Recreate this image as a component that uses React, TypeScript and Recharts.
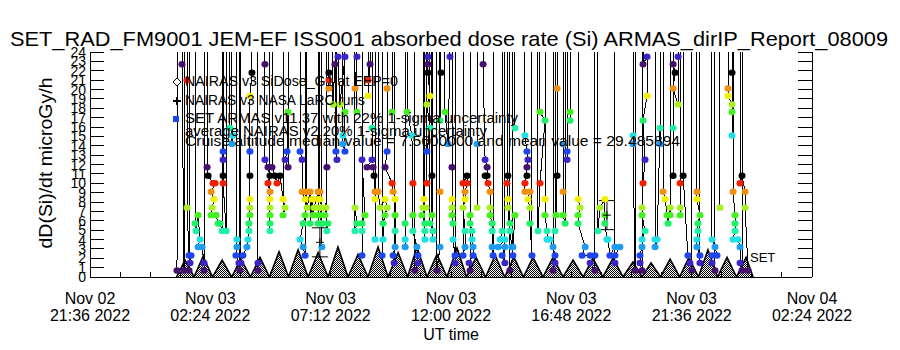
import React from "react";
import { ComposedChart, XAxis, YAxis, Line, Area, Scatter, ErrorBar } from "recharts";

const FONT = "'Liberation Sans', Arial, sans-serif";

// x is hours after Nov 02 21:36 UT
const xTickHours = [0, 1.2, 2.4, 3.6, 4.8, 6, 7.2, 8.4, 9.6, 10.8, 12, 13.2, 14.4, 15.6, 16.8, 18, 19.2, 20.4, 21.6, 22.8, 24, 25.2, 26.4, 27.6, 28.8];
const xLabelDates = ["Nov 02", "Nov 03", "Nov 03", "Nov 03", "Nov 03", "Nov 03", "Nov 04"];
const xLabelTimes = ["21:36 2022", "02:24 2022", "07:12 2022", "12:00 2022", "16:48 2022", "21:36 2022", "02:24 2022"];
const yTicks = [0, 1, 2, 3, 4, 5, 6, 7, 8, 9, 10, 11, 12, 13, 14, 15, 16, 17, 18, 19, 20, 21, 22, 23, 24];

// SET ARMAS dose rate, 40 = off scale
const armasHours = [
  3.47, 3.51,
  3.67, 3.67, 3.75, 3.75,
  3.87, 3.87, 3.87, 3.95, 4.03, 3.99, 3.95, 3.95,
  4.19, 4.19, 4.23, 4.31, 4.39, 4.31, 4.47, 4.55, 4.55, 4.55,
  4.67, 4.67, 4.71, 4.91, 4.99, 4.83, 4.95, 4.87, 4.83, 5.03, 5.11, 5.19, 5.27, 5.27,
  5.31, 5.31, 5.31, 5.31, 5.31, 5.43, 5.43,
  5.58, 5.58, 5.70, 5.66, 5.66,
  5.86, 5.86, 5.86, 5.82, 5.94, 5.98, 5.98,
  6.46, 6.46, 6.38, 6.38, 6.38, 6.38, 6.38, 6.38, 6.34, 6.34, 6.30, 6.26, 6.10, 6.02, 6.02,
  6.70, 6.70, 6.70, 6.70,
  6.98, 6.98, 6.98, 7.10, 7.18, 7.10, 7.18, 7.18, 7.18, 7.18, 7.18, 7.18, 7.18,
  7.26, 7.26, 7.38, 7.46, 7.58, 7.70, 7.78, 7.70, 7.70,
  7.90, 7.90, 7.86, 7.78, 7.90, 7.90,
  8.38, 8.38, 8.46, 8.46, 8.58, 8.58, 8.50, 8.38, 8.50, 8.58, 8.58,
  8.62, 8.62, 8.66, 8.78, 8.78, 8.86, 8.90, 8.94, 9.10, 9.10, 9.10, 9.10, 9.10, 9.10,
  9.17, 9.17, 9.17, 9.25, 9.17, 9.25, 9.25, 9.25,
  9.41, 9.45, 9.41, 9.37, 9.49, 9.45, 9.45,
  9.53, 9.53, 9.53, 9.53, 9.53,
  9.69, 9.69, 9.77, 9.89, 9.97, 10.17, 10.17,
  9.81, 9.81, 9.85, 9.85,
  10.09, 10.09, 10.09, 10.17, 10.17, 10.17,
  10.57, 10.57, 10.65, 10.65, 10.65,
  10.57, 10.57, 10.65, 10.57, 10.57,
  10.85, 10.85, 10.97, 10.85, 10.85, 10.85, 10.85,
  11.09, 11.09, 11.09, 11.17, 11.17,
  11.25, 11.25, 11.25, 11.05, 11.29, 11.33, 11.37, 11.37, 11.37, 11.37,
  11.49, 11.49, 11.57, 11.77, 11.85, 11.77, 11.69, 11.69, 11.65, 11.65,
  11.85, 11.85, 11.85, 11.77, 12.05, 12.09, 12.17, 12.17, 12.17, 12.17, 12.09, 12.13, 12.13,
  12.05, 12.05, 12.05,
  12.57, 12.57, 12.57, 12.57, 12.57,
  12.65, 12.65, 12.84, 12.88, 12.88, 12.88, 13.04, 13.08, 13.08, 12.96, 12.96,
  13.48, 13.48, 13.48, 13.48, 13.56, 13.44, 13.56, 13.44, 13.44, 13.44,
  13.32, 13.32, 13.28, 13.40, 13.24, 13.36, 13.36, 13.36, 13.36,
  13.56, 13.56, 13.68, 13.68, 13.68,
  13.64, 13.64, 13.64, 13.64,
  13.96, 13.96, 14.00, 14.00,
  13.96, 13.96, 13.96, 13.84, 13.84,
  14.16, 14.16, 14.28, 14.36, 14.36,
  14.44, 14.44, 14.44, 14.44, 14.44, 14.48, 14.48, 14.56, 14.56, 14.56,
  14.88, 14.88, 15.04, 15.04, 14.96, 14.96, 14.88, 14.96, 14.96, 14.88, 14.88,
  15.16, 15.16, 15.16, 15.24, 15.24, 15.28, 15.28, 15.12, 15.16, 15.16,
  15.44, 15.44, 15.44, 15.44,
  15.68, 15.68, 15.76, 15.84, 15.84, 15.76, 15.88, 15.96, 15.96, 15.96, 16.04, 16.04, 16.04, 16.08, 16.08,
  16.44, 16.44, 16.36, 16.55, 16.28, 16.55, 16.44, 16.55, 16.55,
  16.67, 16.67, 16.63, 16.67, 16.67, 16.75, 16.83, 16.87, 16.75, 16.75,
  16.75, 16.75, 16.95, 16.87, 16.87,
  16.95, 16.95, 16.95,
  17.35, 17.35, 17.43, 17.47, 17.43, 17.43, 17.35, 17.35, 17.55, 17.47, 17.55, 17.55, 17.63, 17.63,
  17.95, 17.95, 18.15, 17.95, 17.87, 17.87,
  18.15, 18.15, 18.15, 18.23, 18.23, 18.35, 18.47, 18.55, 18.55, 18.47, 18.47,
  18.63, 18.63, 18.63, 18.59, 18.55, 18.55,
  18.87, 18.87, 18.87, 18.87, 18.95, 18.95,
  19.03, 19.03, 19.03, 19.03,
  19.15, 19.15, 19.15, 19.15,
  19.47, 19.47, 19.55, 19.47, 19.47, 19.75, 19.63, 19.95, 20.14, 19.95, 20.14, 20.14,
  20.26, 20.26, 20.34, 20.54, 20.54, 20.54, 20.62, 20.66, 20.74, 20.94, 21.14, 20.94, 20.94, 20.94,
  21.66, 21.66, 21.66, 21.74, 21.74,
  22.06, 22.06, 22.22, 22.22, 22.06, 22.14, 22.06, 22.02, 22.02, 22.14, 22.02, 22.02, 21.94, 21.94, 22.02, 22.02,
  22.54, 22.54, 22.54, 22.62, 22.74, 22.74, 22.74,
  22.86, 22.86, 22.94, 23.02, 23.06, 23.14, 23.14, 23.14,
  23.26, 23.26, 23.34, 23.26, 23.46, 23.46, 23.46,
  23.26, 23.26, 23.26, 23.26,
  23.54, 23.54, 23.54, 23.54, 23.54,
  23.66, 23.66, 23.85, 23.93, 24.01, 24.01,
  24.21, 24.21, 24.21, 24.33, 24.25, 24.25, 24.21, 24.21, 24.33, 24.33, 24.33,
  24.81, 24.81, 24.93, 25.01, 24.81, 24.81, 24.93, 24.93,
  25.13, 25.13, 25.13,
  25.45, 25.45, 25.45, 25.61, 25.61, 25.61, 25.61, 25.61,
  25.65, 25.65, 25.73, 25.73, 25.73, 25.65, 25.85, 25.93, 25.93, 26.01, 26.01,
  25.93, 25.93, 26.01, 26.13, 26.13, 26.25,
];
const armasDose = [
  0.7, 40,
  40, 22.7, 0.7, 40,
  40, 21.0, 7.4, 2.3, 2.3, 1.5, 0.7, 40,
  40, 5.7, 4.9, 6.6, 4.0, 3.2, 3.2, 1.5, 0.7, 40,
  40, 11.7, 10.8, 10.0, 10.0, 9.1, 8.3, 7.4, 6.6, 6.6, 5.7, 5.7, 4.9, 40,
  40, 13.4, 12.5, 10.8, 10.0, 4.9, 40,
  40, 15.9, 15.1, 14.2, 40,
  40, 4.0, 3.2, 2.3, 1.5, 0.7, 40,
  40, 21.8, 19.3, 13.4, 10.8, 8.3, 7.4, 6.6, 5.7, 4.9, 4.0, 3.2, 2.3, 1.5, 40,
  40, 1.5, 0.7, 40,
  40, 22.7, 12.5, 11.7, 10.8, 10.0, 9.1, 8.3, 7.4, 6.6, 5.7, 4.9, 40,
  40, 11.7, 10.8, 10.0, 10.8, 8.3, 7.4, 6.6, 40,
  40, 17.6, 13.4, 12.5, 11.7, 40,
  40, 13.4, 12.5, 9.1, 8.3, 6.6, 5.7, 4.0, 3.2, 2.3, 40,
  40, 9.1, 7.4, 9.1, 5.7, 8.3, 6.6, 7.4, 9.1, 8.3, 7.4, 6.6, 5.7, 40,
  40, 9.1, 8.3, 7.4, 6.6, 5.7, 3.2, 40,
  40, 11.7, 7.4, 6.6, 5.7, 4.9, 40,
  40, 21.8, 21.0, 20.1, 40,
  40, 18.4, 22.7, 23.5, 18.4, 23.5, 40,
  40, 13.4, 12.5, 40,
  40, 15.1, 14.2, 13.4, 17.6, 40,
  40, 20.1, 23.5, 17.6, 40,
  40, 7.4, 5.7, 4.9, 40,
  40, 12.5, 6.6, 5.7, 4.9, 2.3, 40,
  40, 21.0, 19.3, 22.7, 40,
  40, 15.9, 12.5, 11.7, 11.7, 10.8, 9.1, 8.3, 4.0, 40,
  40, 9.1, 7.4, 8.3, 7.4, 6.6, 5.7, 4.0, 2.3, 40,
  40, 20.1, 13.4, 11.7, 10.0, 9.1, 8.3, 6.6, 4.9, 3.2, 2.3, 1.5, 40,
  40, 17.6, 40,
  40, 5.7, 4.0, 3.2, 40,
  40, 17.6, 15.1, 10.0, 6.6, 4.9, 3.2, 2.3, 1.5, 0.7, 40,
  40, 23.5, 22.7, 21.8, 19.3, 18.4, 15.9, 13.4, 10.0, 40,
  40, 8.3, 7.4, 7.4, 6.6, 5.7, 4.9, 4.0, 40,
  40, 5.7, 4.9, 4.0, 40,
  40, 10.8, 6.6, 40,
  40, 16.7, 21.8, 40,
  40, 9.1, 3.2, 0.7, 40,
  40, 17.6, 14.2, 23.5, 40,
  40, 11.7, 8.3, 7.4, 6.6, 5.7, 4.0, 2.3, 1.5, 40,
  40, 10.0, 10.8, 10.0, 9.1, 8.3, 7.4, 4.9, 3.2, 2.3, 40,
  40, 6.6, 5.7, 4.9, 4.0, 3.2, 2.3, 1.5, 0.7, 40,
  40, 14.2, 7.4, 40,
  40, 22.7, 12.5, 11.7, 10.8, 10.8, 10.0, 9.1, 7.4, 6.6, 5.7, 4.9, 3.2, 2.3, 40,
  40, 4.9, 4.0, 4.0, 3.2, 3.2, 2.3, 1.5, 40,
  40, 10.8, 10.0, 8.3, 7.4, 4.9, 3.2, 2.3, 0.7, 40,
  40, 5.7, 6.6, 3.2, 40,
  40, 15.9, 40,
  40, 15.1, 13.4, 12.5, 11.7, 10.8, 10.0, 9.1, 9.1, 8.3, 7.4, 5.7, 2.3, 40,
  40, 17.6, 16.7, 10.0, 4.9, 40,
  40, 8.3, 6.6, 4.9, 4.0, 4.0, 3.2, 2.3, 1.5, 0.7, 40,
  40, 20.1, 10.8, 6.6, 4.9, 40,
  40, 14.2, 9.1, 6.6, 5.7, 40,
  40, 13.4, 12.5, 40,
  40, 17.6, 16.7, 40,
  40, 8.3, 7.4, 6.6, 5.7, 3.2, 2.3, 2.3, 2.3, 1.5, 0.7, 40,
  40, 4.9, 7.4, 8.3, 6.6, 5.7, 4.0, 4.0, 2.3, 3.2, 3.2, 2.3, 1.5, 40,
  40, 15.1, 14.2, 0.7, 40,
  40, 22.7, 23.5, 19.3, 16.7, 12.5, 10.0, 7.4, 6.6, 4.9, 4.0, 3.2, 2.3, 1.5, 0.7, 40,
  40, 4.0, 3.2, 4.0, 15.9, 14.2, 40,
  40, 9.1, 8.3, 6.6, 5.7, 7.4, 6.6, 40,
  40, 22.7, 21.8, 20.1, 18.4, 23.5, 40,
  40, 15.9, 10.8, 40,
  40, 10.0, 7.4, 6.6, 40,
  40, 10.8, 2.3, 1.5, 0.7, 40,
  40, 9.1, 8.3, 6.6, 5.7, 4.9, 4.0, 3.2, 2.3, 1.5, 40,
  40, 4.0, 3.2, 2.3, 2.3, 1.5, 0.7, 40,
  40, 7.4, 40,
  40, 20.1, 19.3, 18.4, 17.6, 15.1, 21.8, 40,
  40, 9.1, 6.6, 5.7, 4.9, 4.0, 4.0, 3.2, 1.5, 0.7, 40,
  40, 10.0, 10.8, 9.1, 7.4, 0.7,
];

// NAIRAS model (orbit peaks)
const modelTroughHours = [3.45, 4.15, 4.89, 5.65, 6.40, 7.16, 7.92, 8.70, 9.50, 10.29, 11.09, 11.89, 12.67, 13.44, 14.24, 15.02, 15.78, 16.54, 17.29, 18.07, 18.87, 19.67, 20.46, 21.26, 22.02, 22.76, 23.52, 24.27, 25.03, 25.79, 26.45];
const modelPeakHours = [3.79, 4.51, 5.27, 6.02, 6.78, 7.54, 8.30, 9.10, 9.89, 10.69, 11.49, 12.29, 13.04, 13.84, 14.64, 15.40, 16.16, 16.91, 17.67, 18.47, 19.27, 20.06, 20.86, 21.66, 22.38, 23.14, 23.89, 24.65, 25.41, 26.17];
const modelPeakDose = [1.8, 2.2, 1.8, 1.9, 2.1, 2.7, 2.9, 2.6, 3.2, 2.4, 3.2, 2.6, 3.2, 2.4, 3.1, 2.1, 2.3, 2.1, 2.1, 2.1, 1.8, 2.0, 2.0, 1.6, 1.5, 1.9, 2.1, 2.9, 2.1, 2.1];

// average NAIRAS with 1-sigma
const avgHours = [9.17, 20.62];
const avgDose = [3.7, 6.6];
const avgErr = [1.55, 1.55];

const CMAP = ["#46106e", "#3c24c8", "#1e46f0", "#1e9cf0", "#20e0e6", "#20f0a8", "#20f064", "#44f020", "#a8f020", "#f0f000", "#f09010", "#f02000", "#000000"];
const doseColor = (v: number) => CMAP[Math.max(0, Math.round((v - 0.65) / 0.847)) % 13];

const n = Math.min(armasHours.length, armasDose.length);
const armasData = armasHours.slice(0, n).map((t, i) => ({ t, v: armasDose[i] }));
const modelData = modelTroughHours.flatMap((t, i) =>
  i < modelPeakHours.length
    ? [{ t, v: 0 }, { t: modelPeakHours[i], v: modelPeakDose[i] }]
    : [{ t, v: 0 }]
);
const avgData = avgHours.map((t, i) => ({ t, v: avgDose[i], err: avgErr[i] }));

const BottomTick = (p: any) => {
  const { x, y, index } = p;
  const major = index % 4 === 0;
  const k = index / 4;
  return (
    <g>
      <line x1={x} x2={x} y1={y} y2={y - 5} stroke="#000" shapeRendering="crispEdges" />
      {major && (
        <text x={x} y={y + 27} textAnchor="middle" fontSize={16} fontFamily={FONT} fill="#000">
          {xLabelDates[k]}
        </text>
      )}
      {major && (
        <text x={x} y={y + 44} textAnchor="middle" fontSize={16} fontFamily={FONT} fill="#000">
          {xLabelTimes[k]}
        </text>
      )}
    </g>
  );
};

const TopTick = (p: any) => (
  <line x1={p.x} x2={p.x} y1={p.y} y2={p.y + 5} stroke="#000" shapeRendering="crispEdges" />
);

const LeftTick = (p: any) => (
  <g>
    <line x1={p.x} x2={p.x + 14} y1={p.y} y2={p.y} stroke="#000" shapeRendering="crispEdges" />
    <text x={p.x - 4} y={p.y + 5} textAnchor="end" fontSize={14} fontFamily={FONT} fill="#000">
      {p.payload.value}
    </text>
  </g>
);

const RightTick = (p: any) => (
  <line x1={p.x} x2={p.x - 14} y1={p.y} y2={p.y} stroke="#000" shapeRendering="crispEdges" />
);

const ArmasDot = (p: any) => {
  const { cx, cy, payload, index } = p;
  if (cx == null || payload.v > 24) return <g key={index} />;
  return <ellipse key={index} cx={cx} cy={cy} rx={3.5} ry={3.2} fill={doseColor(payload.v)} />;
};

const PlusShape = (p: any) => (
  <g>
    <line x1={p.cx - 4} x2={p.cx + 4} y1={p.cy} y2={p.cy} stroke="#000" />
    <line x1={p.cx} x2={p.cx} y1={p.cy - 4} y2={p.cy + 4} stroke="#000" />
  </g>
);

export default function App() {
  return (
    <div style={{ position: "relative", width: 900, height: 350, background: "#fff" }}>
      <style>{"body{margin:0}"}</style>
      <ComposedChart width={900} height={350} margin={{ top: 52, right: 0, bottom: 0, left: 0 }}>
        <XAxis
          xAxisId="b" dataKey="t" type="number" domain={[0, 28.8]} ticks={xTickHours} interval={0}
          allowDataOverflow height={73} tick={<BottomTick />} tickLine={false} tickSize={0} tickMargin={0}
          axisLine={{ stroke: "#000", shapeRendering: "crispEdges" }}
        />
        <XAxis
          xAxisId="t" orientation="top" dataKey="t" type="number" domain={[0, 28.8]} ticks={xTickHours} interval={0}
          allowDataOverflow height={0} tick={<TopTick />} tickLine={false} tickSize={0} tickMargin={0}
          axisLine={{ stroke: "#000", shapeRendering: "crispEdges" }}
        />
        <YAxis
          yAxisId="l" type="number" domain={[0, 24]} ticks={yTicks} interval={0} allowDataOverflow width={90}
          tick={<LeftTick />} tickLine={false} tickSize={0} tickMargin={0}
          axisLine={{ stroke: "#000", shapeRendering: "crispEdges" }}
        />
        <YAxis
          yAxisId="r" orientation="right" type="number" domain={[0, 24]} ticks={yTicks} interval={0} allowDataOverflow
          width={88} tick={<RightTick />} tickLine={false} tickSize={0} tickMargin={0}
          axisLine={{ stroke: "#000", shapeRendering: "crispEdges" }}
        />
        <Area
          xAxisId="b" yAxisId="l" data={modelData} dataKey="v" type="linear" stroke="#000" strokeWidth={1.6}
          fill="url(#dither)" fillOpacity={1} dot={false} activeDot={false} isAnimationActive={false}
        />
        <Line
          xAxisId="b" yAxisId="l" data={armasData} dataKey="v" type="linear" stroke="#000" strokeWidth={1}
          shapeRendering="crispEdges" dot={ArmasDot} activeDot={false} isAnimationActive={false}
        />
        <Scatter xAxisId="b" yAxisId="l" data={avgData} dataKey="v" shape={PlusShape} isAnimationActive={false}>
          <ErrorBar dataKey="err" direction="y" width={8} stroke="#000" strokeWidth={1} />
        </Scatter>
      </ComposedChart>
      <svg width={900} height={350} style={{ position: "absolute", left: 0, top: 0, pointerEvents: "none" }}>
        <defs>
          <pattern id="dither" width={2} height={2} patternUnits="userSpaceOnUse">
            <rect width={2} height={2} fill="#fff" />
            <rect width={1} height={1} fill="#000" />
            <rect x={1} y={1} width={1} height={1} fill="#000" />
          </pattern>
        </defs>
        <g fontFamily={FONT} fill="#000">
          <text x={10} y={46} fontSize={21} textLength={878} lengthAdjust="spacingAndGlyphs">
            SET_RAD_FM9001  JEM-EF ISS001 absorbed dose rate (Si) ARMAS_dirIP_Report_08009
          </text>
          <text transform="translate(52,163) rotate(-90)" textAnchor="middle" fontSize={19} textLength={171} lengthAdjust="spacingAndGlyphs">
            dD(Si)/dt microGy/h
          </text>
          <text x={451} y={340} textAnchor="middle" fontSize={16}>UT time</text>
          <polygon points="177,78 181,82 177,86 173,82" fill="#fff" stroke="#000" />
          <text x={185} y={86} fontSize={14} textLength={213} lengthAdjust="spacingAndGlyphs">NAIRAS v3 SiDose_G1 at EEP=0</text>
          <line x1={173} x2={181} y1={101} y2={101} stroke="#000" strokeWidth={2} />
          <line x1={177} x2={177} y1={97} y2={105} stroke="#000" strokeWidth={2} />
          <text x={185} y={105} fontSize={14} textLength={180} lengthAdjust="spacingAndGlyphs">NAIRAS v3 NASA LaRC runs</text>
          <rect x={173} y={116} width={6} height={6} fill="#1e46f0" />
          <text x={185} y={123} fontSize={14} textLength={333} lengthAdjust="spacingAndGlyphs">SET ARMAS v11.37 with 22% 1-sigma uncertainty</text>
          <text x={185} y={136} fontSize={14} textLength={302} lengthAdjust="spacingAndGlyphs">average NAIRAS v2 20% 1-sigma uncertainty</text>
          <text x={185} y={146} fontSize={14} textLength={495} lengthAdjust="spacingAndGlyphs">Cruise altitude median value = 7.5600000 and mean value = 29.485894</text>
          <text x={750} y={262} fontSize={13}>SET</text>
        </g>
      </svg>
    </div>
  );
}
